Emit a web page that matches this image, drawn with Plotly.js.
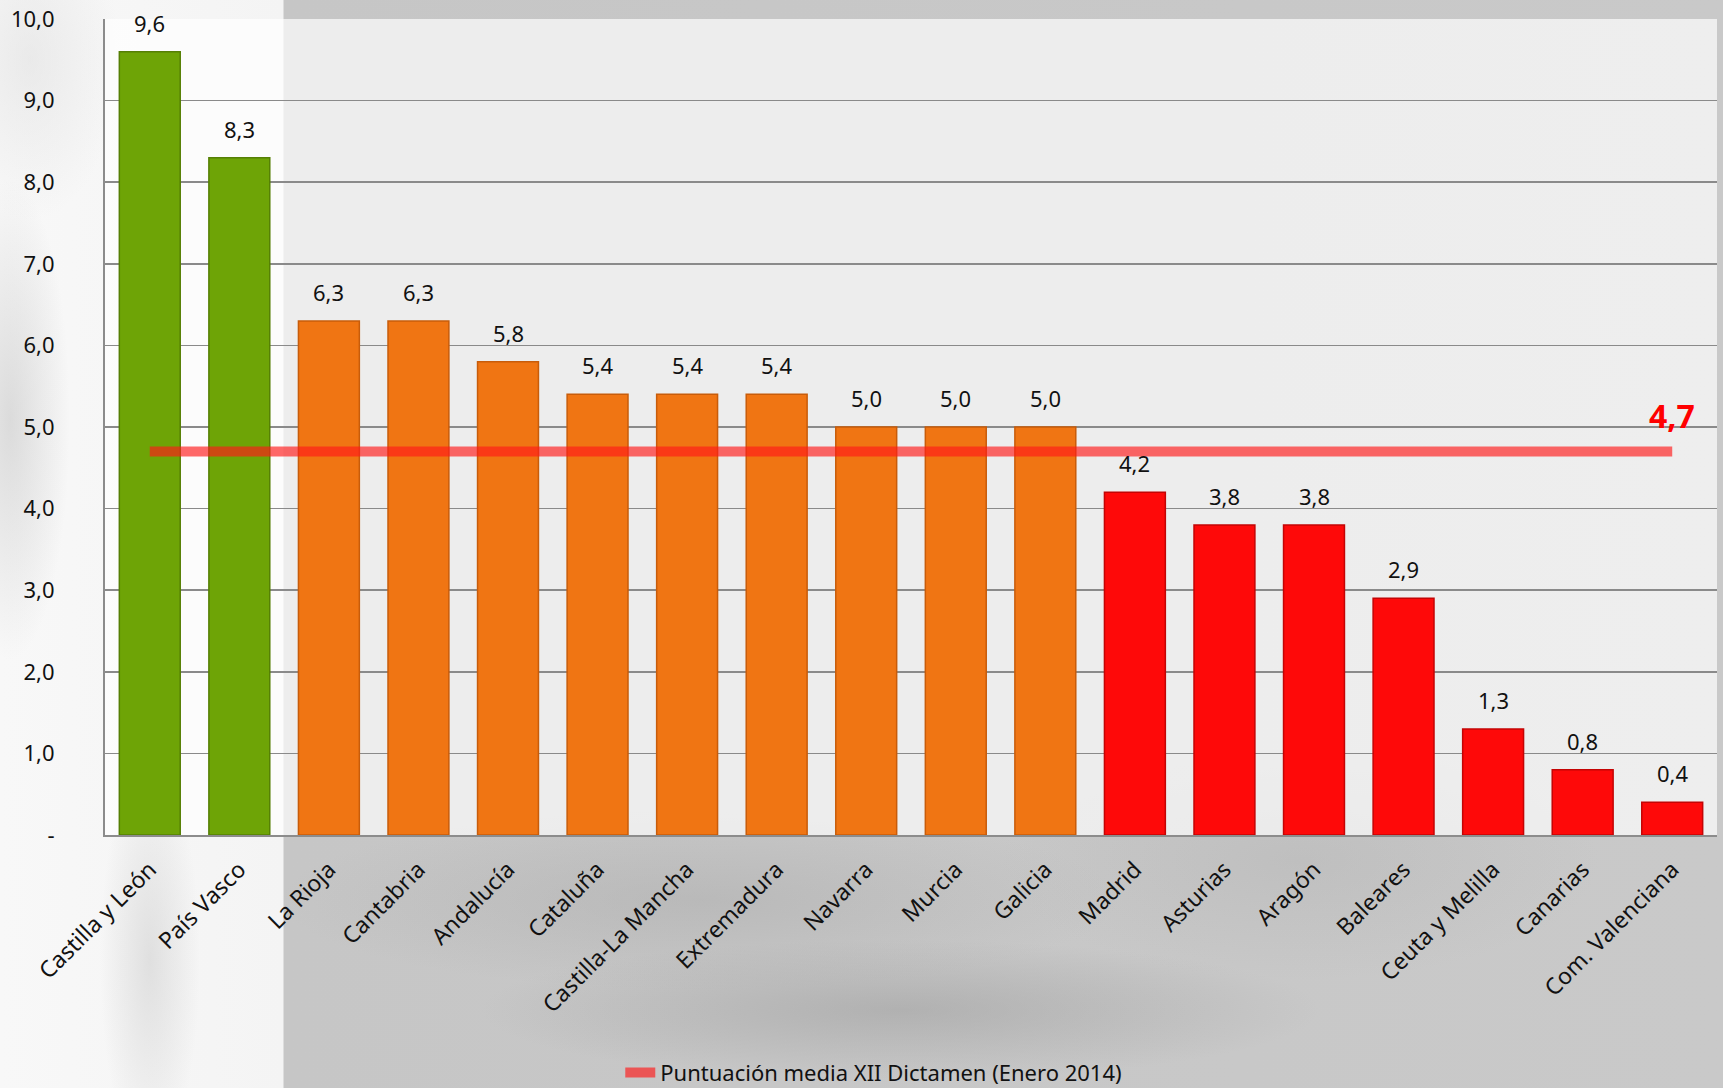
<!DOCTYPE html>
<html>
<head>
<meta charset="utf-8">
<script src="https://cdn.plot.ly/plotly-3.0.1.min.js"></script>
<style>
  html, body { margin: 0; padding: 0; }
  body {
    width: 1723px; height: 1088px; overflow: hidden;
    background:
      radial-gradient(ellipse 420px 70px at 900px 1010px, rgba(150,150,150,0.45), rgba(150,150,150,0) 100%),
      radial-gradient(ellipse 420px 90px at 700px 900px, rgba(165,165,165,0.40), rgba(165,165,165,0) 100%),
      radial-gradient(ellipse 300px 120px at 1300px 860px, rgba(170,170,170,0.30), rgba(170,170,170,0) 100%),
      linear-gradient(to right, #f8f8f8 0px, #f4f4f4 283px, #c6c6c6 284px, #c9c9c9 1723px);
  }
  #left-shade {
    position: absolute; left: 0; top: 0; width: 283px; height: 1088px;
    background:
      radial-gradient(ellipse 60px 240px at 10px 420px, rgba(195,195,195,0.55), rgba(195,195,195,0) 100%),
      radial-gradient(ellipse 50px 200px at 150px 960px, rgba(205,205,205,0.55), rgba(205,205,205,0) 100%),
      radial-gradient(ellipse 90px 160px at 30px 60px, rgba(220,220,220,0.5), rgba(220,220,220,0) 100%);
  }
  #chart { position: absolute; left: 0; top: 0; width: 1723px; height: 1088px; }
</style>
</head>
<body>
<div id="left-shade"></div>
<div id="chart"></div>
<script>
// ---- data ----
const categories = ["Castilla y León", "País Vasco", "La Rioja", "Cantabria", "Andalucía", "Cataluña",
  "Castilla-La Mancha", "Extremadura", "Navarra", "Murcia", "Galicia", "Madrid", "Asturias",
  "Aragón", "Baleares", "Ceuta y Melilla", "Canarias", "Com. Valenciana"];
const scores = [9.6, 8.3, 6.3, 6.3, 5.8, 5.4, 5.4, 5.4, 5.0, 5.0, 5.0, 4.2, 3.8, 3.8, 2.9, 1.3, 0.8, 0.4];
const meanScore = 4.7;
const meanLabel = "Puntuación media XII Dictamen (Enero 2014)";
const yTickVals = [0, 1, 2, 3, 4, 5, 6, 7, 8, 9, 10];
const yTickText = ["-", "1,0", "2,0", "3,0", "4,0", "5,0", "6,0", "7,0", "8,0", "9,0", "10,0"];

// ---- styling ----
const FONT = "Noto Sans, Open Sans, sans-serif";
function barColor(v) {
  if (v >= 7.5) return "#6ea406";
  if (v >= meanScore) return "#f07513";
  return "#fe0909";
}
function barLine(v) {
  if (v >= 7.5) return "#557f04";
  if (v >= meanScore) return "#c85c0a";
  return "#c40404";
}

const barTrace = {
  type: "bar",
  x: categories,
  y: scores,
  marker: {
    color: scores.map(barColor),
    line: { color: scores.map(barLine), width: 1.5 }
  },
  showlegend: false,
  hoverinfo: "x+y"
};

const meanTrace = {
  type: "scatter",
  mode: "lines",
  x: [categories[0], categories[categories.length - 1]],
  y: [meanScore, meanScore],
  line: { color: "rgba(255,25,25,0.65)", width: 10 },
  name: meanLabel,
  showlegend: true
};

const valueAnnotations = categories.map((c, i) => ({
  x: c, y: scores[i], xref: "x", yref: "y",
  text: scores[i].toFixed(1).replace(".", ","),
  showarrow: false, yanchor: "bottom", yshift: 12,
  font: { family: FONT, size: 22, color: "#111" }
}));

const meanAnnotation = {
  x: categories[categories.length - 1], y: meanScore, xref: "x", yref: "y",
  text: "<b>" + meanScore.toFixed(1).replace(".", ",") + "</b>",
  showarrow: false, yanchor: "bottom", yshift: 12,
  font: { family: FONT, size: 32, color: "#ff0000" }
};

const layout = {
  width: 1723, height: 1088,
  margin: { l: 105, r: 6, t: 19, b: 253 },
  paper_bgcolor: "rgba(0,0,0,0)",
  plot_bgcolor: "rgba(255,255,255,0.68)",
  separators: ",.",
  bargap: 0.32,
  font: { family: FONT, size: 22, color: "#111" },
  xaxis: {
    type: "category",
    tickangle: -45,
    tickfont: { family: FONT, size: 23, color: "#111" },
    showline: true, linecolor: "#8c8c8c", linewidth: 2,
    ticks: "", showgrid: false, automargin: false, ticklabelstandoff: 10
  },
  yaxis: {
    range: [0, 10],
    tickvals: yTickVals, ticktext: yTickText,
    tickfont: { family: FONT, size: 22, color: "#111" },
    showgrid: true, gridcolor: "#8a8a8a", gridwidth: 1.5,
    showline: true, linecolor: "#8c8c8c", linewidth: 2,
    zeroline: false, ticks: "", ticklabelstandoff: 44,
    automargin: false, fixedrange: true
  },
  legend: {
    orientation: "h", xref: "container", yref: "container",
    x: 0.36, xanchor: "left", y: 0.014, yanchor: "middle",
    bgcolor: "rgba(0,0,0,0)",
    font: { family: FONT, size: 22, color: "#111" }
  },
  annotations: valueAnnotations.concat([meanAnnotation])
};

Plotly.newPlot("chart", [barTrace, meanTrace], layout, { displayModeBar: false, staticPlot: true });
</script>
</body>
</html>
